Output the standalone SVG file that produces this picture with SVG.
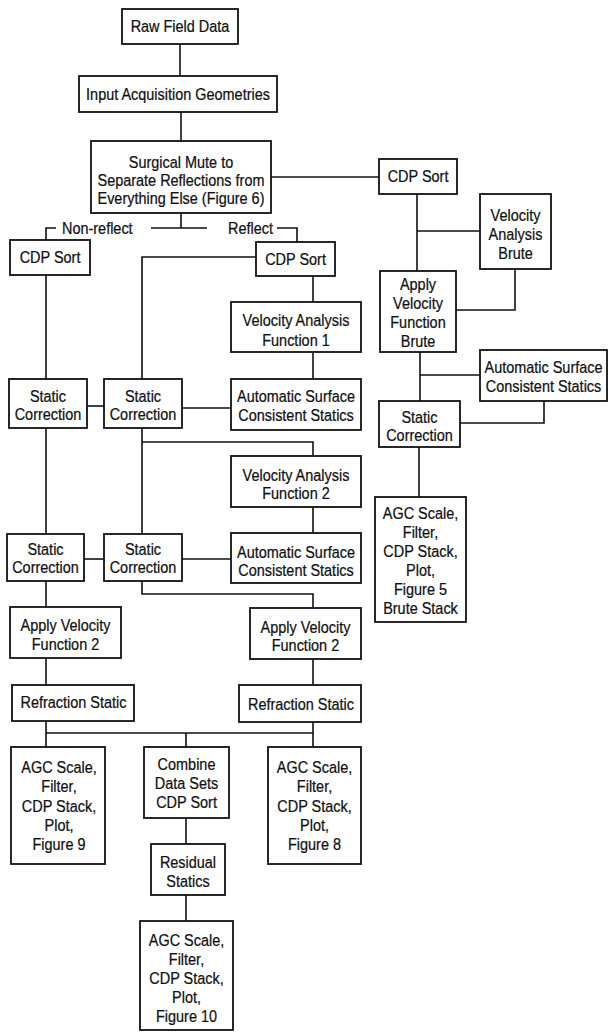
<svg xmlns="http://www.w3.org/2000/svg" width="608" height="1036" viewBox="0 0 608 1036">
<style>
.box{fill:#fff;stroke:#111;stroke-width:1.8}
.ln{fill:none;stroke:#111;stroke-width:1.6}
text{font-family:"Liberation Sans Narrow","Liberation Sans",Arial,sans-serif;font-size:17px;fill:#111;stroke:#111;stroke-width:0.25;text-anchor:middle;transform-box:fill-box;transform-origin:center;transform:scaleX(0.85)}
.lbl{text-anchor:start;transform-origin:left center}
</style>
<rect width="608" height="1036" fill="#fff"/>
<g id="connectors" class="ln">
<path d="M180,44V76"/>
<path d="M181,112V141"/>
<path d="M271,177H379"/>
<path d="M181,213V228M151,228H207"/>
<path d="M56,228H46V240"/>
<path d="M277,228H297V242"/>
<path d="M256,257H142V379"/>
<path d="M313,276V302"/>
<path d="M313,352V379"/>
<path d="M46,275V379"/>
<path d="M87,406H104"/>
<path d="M182,408H231"/>
<path d="M142,428V534"/>
<path d="M142,442H313V456"/>
<path d="M313,507V533"/>
<path d="M46,428V534"/>
<path d="M84,559H104"/>
<path d="M182,559H231"/>
<path d="M142,581V594H313V608"/>
<path d="M46,581V607"/>
<path d="M46,658V685"/>
<path d="M313,659V685"/>
<path d="M46,721V747M313,722V747M46,733H313M186,733V747"/>
<path d="M186,818V844"/>
<path d="M186,895V921"/>
<path d="M417,194V271M417,231H480"/>
<path d="M515,269V310H456"/>
<path d="M420,352V401M420,375H480"/>
<path d="M544,401V423H460"/>
<path d="M419,447V497"/>
</g>
<g id="labels">
<text class="lbl" x="62" y="234">Non-reflect</text>
<text class="lbl" x="228" y="234">Reflect</text>
</g>
<g id="raw"><rect class="box" x="122" y="9" width="116" height="35"/><text x="180" y="32.5">Raw Field Data</text></g>
<g id="input"><rect class="box" x="79" y="76" width="198" height="36"/><text x="178" y="100">Input Acquisition Geometries</text></g>
<g id="mute"><rect class="box" x="91" y="141" width="180" height="72"/><text x="181" y="168">Surgical Mute to</text><text x="181" y="186">Separate Reflections from</text><text x="181" y="204">Everything Else  (Figure 6)</text></g>
<g id="cdp_nr"><rect class="box" x="10" y="240" width="80" height="35"/><text x="50" y="263.5">CDP Sort</text></g>
<g id="cdp_r"><rect class="box" x="256" y="242" width="79" height="34"/><text x="295.5" y="265">CDP Sort</text></g>
<g id="cdp_b"><rect class="box" x="379" y="159" width="78" height="35"/><text x="418" y="182.5">CDP Sort</text></g>
<g id="vab"><rect class="box" x="480" y="194" width="71" height="75"/><text x="515.5" y="221">Velocity</text><text x="515.5" y="240">Analysis</text><text x="515.5" y="259">Brute</text></g>
<g id="avfb"><rect class="box" x="380" y="271" width="76" height="81"/><text x="418" y="290">Apply</text><text x="418" y="309">Velocity</text><text x="418" y="328">Function</text><text x="418" y="347">Brute</text></g>
<g id="as_b"><rect class="box" x="480" y="350" width="127" height="51"/><text x="543.5" y="373">Automatic Surface</text><text x="543.5" y="392">Consistent Statics</text></g>
<g id="sc_b"><rect class="box" x="379" y="401" width="81" height="46"/><text x="419.5" y="423">Static</text><text x="419.5" y="441">Correction</text></g>
<g id="agc_b"><rect class="box" x="375" y="497" width="91" height="125"/><text x="420.5" y="519">AGC Scale,</text><text x="420.5" y="538.5">Filter,</text><text x="420.5" y="557.5">CDP Stack,</text><text x="420.5" y="576.5">Plot,</text><text x="420.5" y="595.5">Figure 5</text><text x="420.5" y="614.5">Brute Stack</text></g>
<g id="va1"><rect class="box" x="231" y="302" width="130" height="50"/><text x="296" y="326.5">Velocity Analysis</text><text x="296" y="346">Function 1</text></g>
<g id="as1"><rect class="box" x="231" y="379" width="130" height="51"/><text x="296" y="402.5">Automatic Surface</text><text x="296" y="421">Consistent Statics</text></g>
<g id="scA"><rect class="box" x="9" y="379" width="78" height="49"/><text x="48" y="402">Static</text><text x="48" y="420">Correction</text></g>
<g id="scB"><rect class="box" x="104" y="379" width="78" height="49"/><text x="143" y="402">Static</text><text x="143" y="420">Correction</text></g>
<g id="va2"><rect class="box" x="231" y="456" width="130" height="51"/><text x="296" y="481">Velocity Analysis</text><text x="296" y="499">Function 2</text></g>
<g id="as2"><rect class="box" x="231" y="533" width="130" height="50"/><text x="296" y="558">Automatic Surface</text><text x="296" y="576.5">Consistent Statics</text></g>
<g id="scC"><rect class="box" x="7" y="534" width="77" height="47"/><text x="45.5" y="555">Static</text><text x="45.5" y="573.5">Correction</text></g>
<g id="scD"><rect class="box" x="104" y="534" width="78" height="47"/><text x="143" y="555">Static</text><text x="143" y="573.5">Correction</text></g>
<g id="avf2L"><rect class="box" x="10" y="607" width="111" height="51"/><text x="65.5" y="631">Apply Velocity</text><text x="65.5" y="650">Function 2</text></g>
<g id="avf2R"><rect class="box" x="250" y="608" width="111" height="51"/><text x="305.5" y="633">Apply Velocity</text><text x="305.5" y="651.5">Function 2</text></g>
<g id="rsL"><rect class="box" x="12" y="685" width="122" height="36"/><text x="73.5" y="708">Refraction Static</text></g>
<g id="rsR"><rect class="box" x="239" y="685" width="122" height="37"/><text x="301" y="710">Refraction Static</text></g>
<g id="agc9"><rect class="box" x="11" y="747" width="94" height="117"/><text x="59" y="773">AGC Scale,</text><text x="59" y="792.5">Filter,</text><text x="59" y="812">CDP Stack,</text><text x="59" y="831.5">Plot,</text><text x="59" y="850.5">Figure 9</text></g>
<g id="combine"><rect class="box" x="144" y="747" width="85" height="71"/><text x="186.5" y="770">Combine</text><text x="186.5" y="789">Data Sets</text><text x="186.5" y="808">CDP Sort</text></g>
<g id="agc8"><rect class="box" x="268" y="747" width="93" height="117"/><text x="314.5" y="773">AGC Scale,</text><text x="314.5" y="792.5">Filter,</text><text x="314.5" y="812">CDP Stack,</text><text x="314.5" y="831.5">Plot,</text><text x="314.5" y="850.5">Figure 8</text></g>
<g id="resid"><rect class="box" x="151" y="844" width="74" height="51"/><text x="188" y="868.5">Residual</text><text x="188" y="887">Statics</text></g>
<g id="agc10"><rect class="box" x="140" y="921" width="93" height="109"/><text x="186.5" y="946">AGC Scale,</text><text x="186.5" y="965">Filter,</text><text x="186.5" y="984">CDP Stack,</text><text x="186.5" y="1003">Plot,</text><text x="186.5" y="1022">Figure 10</text></g>
</svg>
